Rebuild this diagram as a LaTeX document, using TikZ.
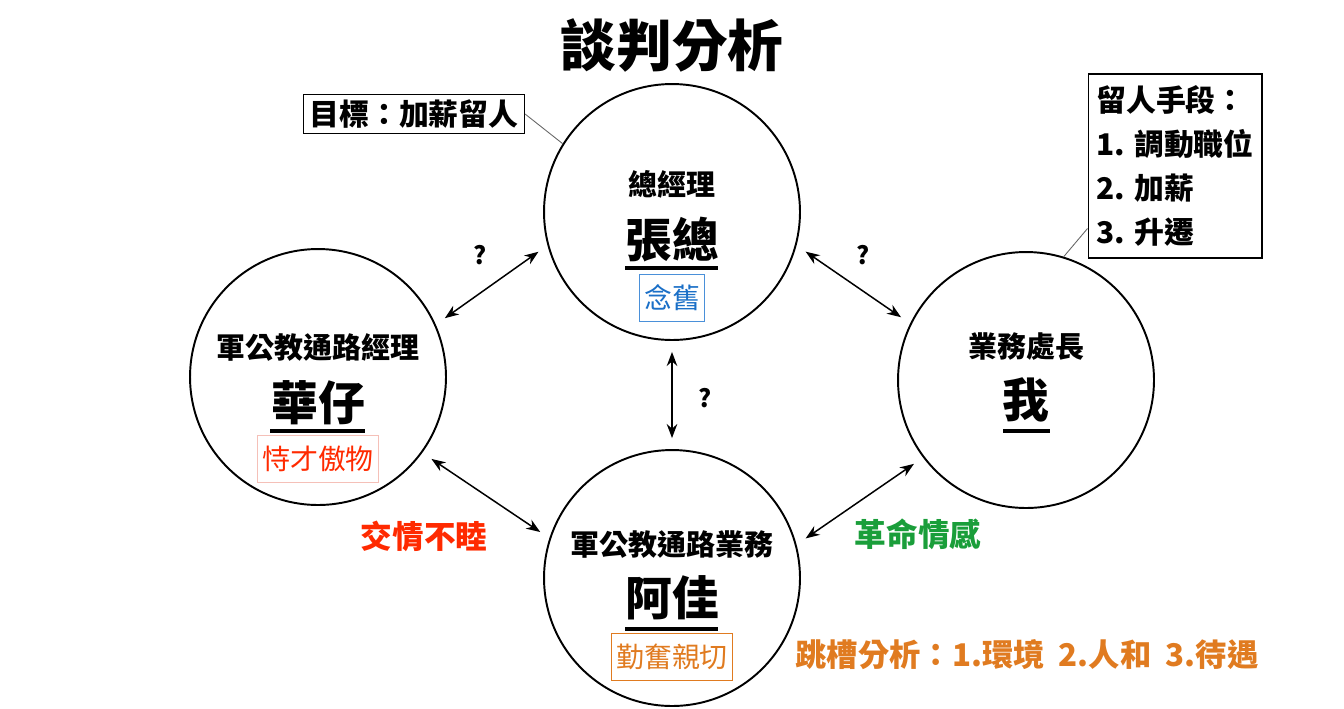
\documentclass[tikz,border=0pt]{standalone}
\usepackage{fontspec}
\setmainfont{Noto Sans CJK TC}
\usetikzlibrary{arrows.meta}
\definecolor{tagblue}{HTML}{1A6FC7}
\definecolor{tagblueline}{HTML}{4A90D9}
\definecolor{tagred}{HTML}{FF2A00}
\definecolor{tagredline}{HTML}{F5C0B8}
\definecolor{tagorange}{HTML}{E07B20}
\definecolor{relgreen}{HTML}{1A9E3A}

\begin{document}
\begin{tikzpicture}[
    x=0.02cm, y=-0.02cm,
    >={Stealth[length=8pt,width=6pt]},
    person/.style={circle, draw, line width=1.1pt, minimum size=5.12cm, inner sep=0pt},
    role/.style={font=\fontsize{16.5}{18}\selectfont\bfseries, inner sep=0pt},
    who/.style={font=\fontsize{26.6}{28}\selectfont\bfseries, inner sep=0pt},
    uline/.style={line width=2.3pt},
    tagbox/.style={draw, line width=0.7pt, font=\fontsize{15.9}{17}\selectfont,
        minimum height=0.94cm, inner xsep=0.09cm, inner ysep=0pt},
    rel/.style={<->, line width=0.85pt, shorten >=0.22cm, shorten <=0.22cm},
    ask/.style={font=\fontsize{14}{16}\selectfont\bfseries, inner sep=0pt},
    note/.style={draw, line width=0.6pt, font=\fontsize{17}{25}\selectfont\bfseries,
        inner xsep=0.12cm, inner ysep=0.1cm},
    pin/.style={draw=black!60, line width=0.5pt}
]
    \useasboundingbox (0,0) rectangle (1344,708);

    % Titel
    \node[font=\fontsize{31.7}{34}\selectfont\bfseries, inner sep=0pt] (title) at (672,45) {談判分析};

    % Personen
    \node[person] (gm)  at (672,212) {};
    \node[person] (hua) at (318,377) {};
    \node[person] (me)  at (1026,380) {};
    \node[person] (jia) at (672,578) {};

    % Zhang
    \node[role] (gmrole) at (672,184) {總經理};
    \node[who] (gmname) at (672,240) {張總};
    \draw[uline] (625,268) -- (718,268);
    \node[tagbox, draw=tagblueline, text=tagblue] (gmtag) at (672,298) {念舊};

    % Hua
    \node[role] (huarole) at (318,347) {軍公教通路經理};
    \node[who] (huaname) at (318,403) {華仔};
    \draw[uline] (270,431) -- (365,431);
    \node[tagbox, draw=tagredline, text=tagred] (huatag) at (318,459) {恃才傲物};

    % Ich
    \node[role] (merole) at (1026,347) {業務處長};
    \node[who] (mename) at (1026,400) {我};
    \draw[uline] (1003,431) -- (1050,431);

    % Jia
    \node[role] (jiarole) at (672,545) {軍公教通路業務};
    \node[who] (jianame) at (672,598) {阿佳};
    \draw[uline] (625,629) -- (718,629);
    \node[tagbox, draw=tagorange, text=tagorange] (jiatag) at (672,657) {勤奮親切};

    % Beziehungen
    \draw[rel] (hua.24) -- (gm.195);
    \draw[rel] (gm.-15) -- (me.154);
    \draw[rel] (gm.-90) -- (jia.90);
    \draw[rel] (hua.-36) -- (jia.162);
    \draw[rel] (jia.15) -- (me.217);

    \node[ask] (q1) at (480,255) {?};
    \node[ask] (q2) at (863,255) {?};
    \node[ask] (q3) at (705,398) {?};
    \node[font=\fontsize{18}{20}\selectfont\bfseries, text=tagred, inner sep=0pt] (bad) at (424,536) {交情不睦};
    \node[font=\fontsize{18}{20}\selectfont\bfseries, text=relgreen, inner sep=0pt] (good) at (918,534) {革命情感};

    % Notizen
    \node[note] (goal) at (414,114) {目標：加薪留人};
    \draw[pin] (goal.east) -- (gm.148);
    \node[note, align=left, minimum width=3.48cm, minimum height=3.68cm] (tools) at (1175,166)
        {留人手段：\\1. 調動職位\\2. 加薪\\3. 升遷};
    \draw[pin] ([yshift=0.6cm]tools.south west) -- (me.73);

    \node[font=\fontsize{17.8}{20}\selectfont\bfseries, text=tagorange, inner sep=0pt] (jump) at (1027,655)
        {跳槽分析：1.環境\ \ 2.人和\ \ 3.待遇};

\end{tikzpicture}
\end{document}
